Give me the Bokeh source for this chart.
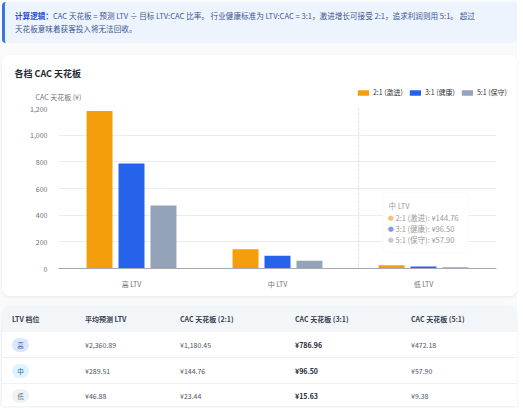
from bokeh.plotting import figure
from bokeh.models import (ColumnDataSource, FactorRange, Range1d, FixedTicker,
                          NumeralTickFormatter, Label, Span, BoxAnnotation, Div)
from bokeh.transform import dodge
from bokeh.layouts import column
from bokeh.embed import file_html
from bokeh.resources import INLINE

# ---------------- data ----------------
tiers = ["高 LTV", "中 LTV", "低 LTV"]
tier_short = ["高", "中", "低"]
avg_ltv = [2360.89, 289.51, 46.88]
cac_2 = [1180.45, 144.76, 23.44]
cac_3 = [786.96, 96.50, 15.63]
cac_5 = [472.18, 57.90, 9.38]
series_names = ["2:1 (激进)", "3:1 (健康)", "5:1 (保守)"]
y_ticks = [0, 200, 400, 600, 800, 1000, 1200]
table_headers = ["LTV 档位", "平均预测 LTV", "CAC 天花板 (2:1)", "CAC 天花板 (3:1)", "CAC 天花板 (5:1)"]
tooltip_index = 1

# ---------------- styles ----------------
FONT = "Noto Sans CJK SC"
colors = ["#f59e0b", "#2563eb", "#94a3b8"]
tip_colors = ["#f3c27a", "#7f9def", "#c3cad5"]
W = 515

def money(v):
    return f"¥{v:,.2f}"

# ---------------- info box ----------------
info_html = (
    f'<div style="box-sizing:border-box;width:{W}px;height:41px;background:#eef4fd;'
    f'border-left:3px solid #3b73e0;border-radius:4px;padding:7px 0 0 10px;'
    f"font-family:'{FONT}';font-size:7.6px;line-height:13px;color:#3a5794;white-space:nowrap;\">"
    '<b style="color:#1d4ed8">计算逻辑：</b>CAC 天花板 = 预测 LTV ÷ 目标 LTV:CAC 比率。 '
    '行业健康标准为 LTV:CAC = 3:1，激进增长可接受 2:1，追求利润则用 5:1。 超过<br>'
    '天花板意味着获客投入将无法回收。</div>'
)
info = Div(text=info_html, width=W, height=41, margin=(2, 0, 0, 2))

src = ColumnDataSource(dict(tier=tiers, c2=cac_2, c3=cac_3, c5=cac_5))
keys = ["c2", "c3", "c5"]

# ---------------- card header: title, axis name, legend ----------------
HH = 47
hdr = figure(width=W, height=HH, output_backend="svg", toolbar_location=None, tools="",
             x_range=Range1d(0, W - 5), y_range=Range1d(0, HH),
             x_axis_location=None, y_axis_location=None,
             min_border_left=0, min_border_right=5, min_border_top=0, min_border_bottom=0)
hdr.frame_align = False
hdr.title = None
hdr.grid.visible = False
hdr.outline_line_color = None
hdr.background_fill_color = "white"
hdr.border_fill_color = "white"
# legend proxies: zero-size bars sharing the chart's source (nothing visible in the header)
for key, col, name in zip(keys, colors, series_names):
    hdr.vbar(x=0, top=0, width=0, source=src, fill_color=col, line_color=None, legend_label=name)
hlg = hdr.legend[0]
hlg.location = "bottom_right"
hlg.orientation = "horizontal"
hlg.background_fill_alpha = 0
hlg.border_line_alpha = 0
hlg.padding = 0
hlg.margin = 5
hlg.spacing = 5
hlg.glyph_width = 14
hlg.glyph_height = 7
hlg.label_standoff = 3
hlg.label_height = 8
hlg.label_text_font = FONT
hlg.label_text_font_size = "7px"
hlg.label_text_color = "#333333"
hdr.add_layout(Label(x=12, y=29, text="各档 CAC 天花板", text_font=FONT, text_font_size="9px",
                     text_font_style="bold", text_color="#1f2937", text_baseline="middle"))
hdr.add_layout(Label(x=33, y=6, text="CAC 天花板 (¥)", text_font=FONT, text_font_size="7px",
                     text_color="#6e7079", text_baseline="middle"))

# ---------------- chart ----------------
p = figure(x_range=FactorRange(factors=tiers), y_range=Range1d(0, 1200),
           width=W, height=194, output_backend="svg", toolbar_location=None, tools="",
           min_border_left=56, min_border_right=21, min_border_top=6, min_border_bottom=28)
p.title = None
p.background_fill_color = "white"
p.border_fill_color = "white"
p.outline_line_color = None

offsets = [-0.219, 0.0, 0.219]
for key, off, col in zip(keys, offsets, colors):
    p.vbar(x=dodge("tier", off, range=p.x_range), top=key, width=0.178, source=src,
           fill_color=col, line_color=None)

p.yaxis.ticker = FixedTicker(ticks=y_ticks)
p.yaxis.formatter = NumeralTickFormatter(format="0,0")
p.yaxis.axis_line_color = None
p.yaxis.major_tick_line_color = None
p.yaxis.minor_tick_line_color = None
p.yaxis.major_label_standoff = 5
p.xaxis.axis_line_color = "#a4a9b0"
p.xaxis.major_tick_line_color = None
p.xaxis.minor_tick_line_color = None
p.xaxis.major_label_standoff = 4
for ax in (p.xaxis, p.yaxis):
    ax.major_label_text_font = FONT
    ax.major_label_text_font_size = "7px"
    ax.major_label_text_color = "#6e7079"
p.xgrid.grid_line_color = None
p.ygrid.grid_line_color = "#e9edf2"

# hover crosshair + tooltip
p.add_layout(Span(location=2.055, dimension="height", line_color="#cfd3d9", line_dash="2 2", line_width=1))
p.add_layout(BoxAnnotation(left=2.219, right=2.808, top=570, bottom=120, fill_color="white",
                           fill_alpha=0.9, line_color="#eceef1", line_width=1, border_radius=4))
p.add_layout(Label(x=2.26, y=472, text=tiers[tooltip_index], text_font=FONT, text_font_size="7.5px",
                   text_color="#9b9b9b", text_baseline="middle"))
tip_vals = [cac_2[tooltip_index], cac_3[tooltip_index], cac_5[tooltip_index]]
for i, (name, v, c) in enumerate(zip(series_names, tip_vals, tip_colors)):
    yy = 382 - i * 83
    p.add_layout(Label(x=2.276, y=yy, text="●", text_font="DejaVu Sans", text_font_size="7px",
                       text_color=c, text_baseline="middle", text_align="center"))
    p.add_layout(Label(x=2.308, y=yy, text=f"{name}: {money(v)}", text_font=FONT,
                       text_font_size="7.5px", text_color="#9b9b9b", text_baseline="middle"))

card = column(hdr, p, spacing=0, margin=(12, 0, 0, 2),
              styles={"background-color": "white", "border-radius": "8px",
                      "box-shadow": "0 1px 3px rgba(15,23,42,0.08)", "overflow": "hidden"})

# ---------------- table ----------------
col_x = [10, 83, 178, 293, 409]
badge_styles = [("#dbe7fd", "#3757c9"), ("#e0f2fe", "#0b6fa8"), ("#eef1f5", "#64748b")]
row_tops = [32, 58, 83]
parts = [f'<div style="position:relative;box-sizing:border-box;width:{W}px;height:100px;overflow:hidden;'
         f"background:white;border-radius:8px 8px 0 0;box-shadow:0 1px 3px rgba(15,23,42,0.08);"
         f"font-family:'{FONT}';font-size:7px;\">",
         '<div style="position:absolute;left:0;top:0;width:100%;height:26px;background:#f3f6f9;"></div>',
         '<div style="position:absolute;left:0;top:51px;width:100%;height:1px;background:#eef1f4;"></div>',
         '<div style="position:absolute;left:0;top:77px;width:100%;height:1px;background:#eef1f4;"></div>']
for x, h in zip(col_x, table_headers):
    parts.append(f'<div style="position:absolute;left:{x}px;top:6px;line-height:14px;'
                 f'font-weight:bold;color:#374151;white-space:nowrap;">{h}</div>')
for r in range(len(tiers)):
    top = row_tops[r]
    bg, fg = badge_styles[r]
    parts.append(f'<div style="position:absolute;left:{col_x[0]}px;top:{top}px;width:17px;height:14px;'
                 f'line-height:14px;border-radius:7px;background:{bg};color:{fg};text-align:center;'
                 f'font-size:6.5px;">{tier_short[r]}</div>')
    vals = [avg_ltv[r], cac_2[r], cac_3[r], cac_5[r]]
    for j, v in enumerate(vals):
        bold = j == 2
        style = "font-weight:bold;color:#1f2937;" if bold else "color:#4b5563;"
        parts.append(f'<div style="position:absolute;left:{col_x[j + 1]}px;top:{top}px;line-height:14px;'
                     f'white-space:nowrap;{style}">{money(v)}</div>')
parts.append('</div>')
table = Div(text="".join(parts), width=W, height=100, margin=(10, 0, 0, 2))

page = column(info, card, table, spacing=0, styles={"background-color": "#f8fafc"})
open("out.html", "w").write(file_html(page, INLINE))
